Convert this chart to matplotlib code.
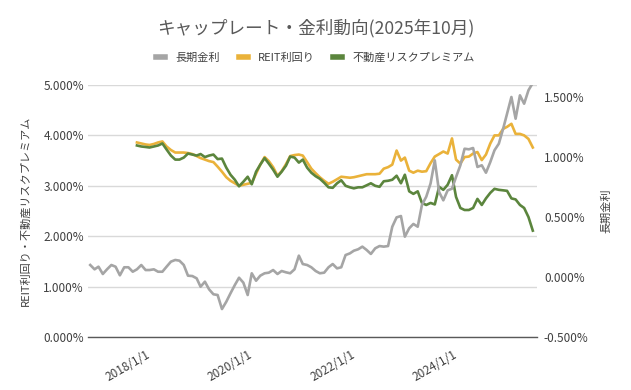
import matplotlib
matplotlib.use("Agg")
import matplotlib.pyplot as plt
import matplotlib.transforms as mtransforms
import pandas as pd
from matplotlib.ticker import FuncFormatter, MultipleLocator, FixedLocator
import matplotlib.dates as mdates

plt.rcParams["font.family"] = ["Noto Sans CJK JP", "DejaVu Sans"]

TITLE = "キャップレート・金利動向(2025年10月)"
SERIES_NAMES = ["長期金利", "REIT利回り", "不動産リスクプレミアム"]
LEFT_LABEL = "REIT利回り・不動産リスクプレミアム"
RIGHT_LABEL = "長期金利"

# monthly observations
JGB_START = "2017-01-01"
REIT_START = "2017-12-01"

# 長期金利 (%), right axis
JGB_10Y = [
    0.100, 0.064, 0.086, 0.025, 0.064, 0.100, 0.086, 0.014, 0.081, 0.081,
    0.044, 0.064, 0.100, 0.058, 0.058, 0.064, 0.044, 0.044, 0.086, 0.128,
    0.142, 0.136, 0.100, 0.011, 0.008, -0.011, -0.081, -0.039, -0.103, -0.144,
    -0.150, -0.267, -0.206, -0.136, -0.067, -0.006, -0.047, -0.150, 0.031, -0.031,
    0.011, 0.031, 0.036, 0.058, 0.025, 0.050, 0.039, 0.031, 0.064, 0.178,
    0.108, 0.100, 0.081, 0.050, 0.031, 0.036, 0.081, 0.108, 0.072, 0.081,
    0.183, 0.197, 0.219, 0.231, 0.253, 0.225, 0.192, 0.239, 0.258, 0.253,
    0.258, 0.419, 0.497, 0.508, 0.336, 0.406, 0.442, 0.419, 0.600, 0.669,
    0.780, 0.972, 0.708, 0.639, 0.722, 0.736, 0.833, 0.931, 1.069, 1.064,
    1.075, 0.917, 0.931, 0.869, 0.958, 1.056, 1.111, 1.236, 1.361, 1.500,
    1.319, 1.514, 1.444, 1.556, 1.617,
]

# REIT利回り (%), left axis
REIT_YIELD = [
    3.86, 3.84, 3.82, 3.81, 3.83, 3.86, 3.88, 3.78, 3.71, 3.66,
    3.66, 3.66, 3.65, 3.63, 3.59, 3.55, 3.52, 3.49, 3.47, 3.38,
    3.28, 3.17, 3.10, 3.05, 3.00, 3.02, 3.04, 3.06, 3.24, 3.42,
    3.57, 3.49, 3.37, 3.20, 3.29, 3.43, 3.59, 3.61, 3.62, 3.60,
    3.47, 3.34, 3.25, 3.17, 3.10, 3.04, 3.08, 3.13, 3.18, 3.17,
    3.16, 3.17, 3.19, 3.21, 3.23, 3.23, 3.23, 3.24, 3.34, 3.37,
    3.42, 3.70, 3.50, 3.56, 3.30, 3.26, 3.30, 3.28, 3.29, 3.45,
    3.58, 3.63, 3.68, 3.64, 3.94, 3.52, 3.44, 3.57, 3.58, 3.64,
    3.67, 3.51, 3.62, 3.84, 4.00, 4.00, 4.13, 4.17, 4.23, 4.03,
    4.03, 4.00, 3.93, 3.76,
]

# 不動産リスクプレミアム (%), left axis
RISK_PREMIUM = [
    3.80, 3.78, 3.77, 3.76, 3.78, 3.80, 3.84, 3.72, 3.60, 3.52,
    3.52, 3.56, 3.64, 3.62, 3.60, 3.63, 3.57, 3.60, 3.62, 3.53,
    3.54, 3.36, 3.22, 3.12, 2.99, 3.08, 3.18, 3.03, 3.28, 3.42,
    3.55, 3.44, 3.32, 3.18, 3.28, 3.40, 3.58, 3.56, 3.46, 3.52,
    3.36, 3.26, 3.19, 3.14, 3.06, 2.97, 2.96, 3.05, 3.11, 3.00,
    2.97, 2.95, 2.97, 2.97, 3.01, 3.05, 3.00, 2.98, 3.09, 3.10,
    3.12, 3.20, 3.05, 3.22, 2.89, 2.84, 2.89, 2.66, 2.62, 2.66,
    2.63, 2.98, 2.92, 3.02, 3.21, 2.78, 2.56, 2.52, 2.52, 2.56,
    2.74, 2.62, 2.75, 2.86, 2.94, 2.92, 2.91, 2.90, 2.75, 2.73,
    2.62, 2.56, 2.38, 2.11,
]

XTICKS = ["2018-01-01", "2020-01-01", "2022-01-01", "2024-01-01"]

GRAY = "#A5A5A5"
GOLD = "#EAB23A"
GREEN = "#5B853D"
TEXT = "#404040"

jgb_dates = pd.date_range(JGB_START, periods=len(JGB_10Y), freq="MS")
reit_dates = pd.date_range(REIT_START, periods=len(REIT_YIELD), freq="MS")

fig = plt.figure(figsize=(6.31, 3.90), dpi=100)
ax = fig.add_axes([88 / 631, 1 - 337 / 390, 449 / 631, 252 / 390])
ax2 = ax.twinx()

l_gold, = ax.plot(reit_dates, REIT_YIELD, color=GOLD, lw=1.9, solid_joinstyle="round")
l_green, = ax.plot(reit_dates, RISK_PREMIUM, color=GREEN, lw=1.9, solid_joinstyle="round")
l_gray, = ax2.plot(jgb_dates, JGB_10Y, color=GRAY, lw=1.9, solid_joinstyle="round")

ax.set_xlim(pd.Timestamp("2016-12-16"), pd.Timestamp("2025-10-01"))
ax.set_ylim(0, 5)
ax.yaxis.set_major_locator(MultipleLocator(1))
ax.yaxis.set_major_formatter(FuncFormatter(lambda v, _: f"{v:.3f}%"))
ax2.set_ylim(-0.5, 1.6)
ax2.yaxis.set_major_locator(FixedLocator([-0.5, 0, 0.5, 1.0, 1.5]))
ax2.yaxis.set_major_formatter(FuncFormatter(lambda v, _: f"{v:.3f}%"))

ax.grid(True, axis="y", color="#D9D9D9", lw=1.0)
ax.set_axisbelow(True)
for a in (ax, ax2):
    for s in a.spines.values():
        s.set_visible(False)
ax.spines["bottom"].set_visible(True)
ax.spines["bottom"].set_color("#595959")
ax.spines["bottom"].set_linewidth(1.0)

ax.xaxis.set_major_locator(FixedLocator(mdates.date2num(pd.to_datetime(XTICKS))))
ax.xaxis.set_major_formatter(
    FuncFormatter(lambda v, _: (lambda d: f"{d.year}/{d.month}/{d.day}")(mdates.num2date(v)))
)
ax.tick_params(axis="x", length=0, pad=8, labelsize=8.5, labelcolor=TEXT)
shift = mtransforms.ScaledTranslation(5 / 100, 0, fig.dpi_scale_trans)
for lbl in ax.get_xticklabels():
    lbl.set_rotation(30)
    lbl.set_ha("right")
    lbl.set_rotation_mode("anchor")
    lbl.set_transform(lbl.get_transform() + shift)
ax.tick_params(axis="y", length=0, pad=3, labelsize=8.5, labelcolor=TEXT)
ax2.tick_params(axis="y", length=0, pad=5, labelsize=8.5, labelcolor=TEXT)

ax.set_ylabel(LEFT_LABEL, fontsize=8, color=TEXT, labelpad=9)
ax2.set_ylabel(RIGHT_LABEL, fontsize=8, color=TEXT, rotation=90, labelpad=9)

fig.text(0.5, 1 - 28 / 390, TITLE, ha="center", va="center", fontsize=12.7, color="#595959")

leg = fig.legend(
    [l_gray, l_gold, l_green], SERIES_NAMES,
    loc="center", bbox_to_anchor=(0.5, 1 - 58 / 390), ncol=3, frameon=False,
    fontsize=8, handlelength=0.8, handletextpad=0.9, columnspacing=1.7,
)
for h in leg.get_lines():
    h.set_linewidth(4)
for t in leg.get_texts():
    t.set_color(TEXT)

fig.savefig("out.png", dpi=100)
